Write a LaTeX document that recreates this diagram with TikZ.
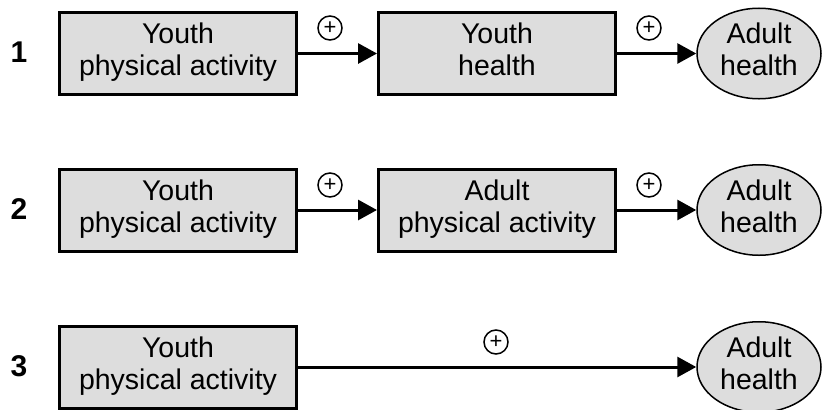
\documentclass[tikz,border=0pt]{standalone}
\usepackage{fontspec}
\setmainfont{Liberation Sans}
\usetikzlibrary{arrows.meta,shapes.geometric}
\definecolor{boxfill}{RGB}{221,221,221}
\tikzset{
  stage/.style={draw=black, line width=3pt, fill=boxfill, rectangle,
    minimum width=237pt, minimum height=82pt, inner sep=0pt, align=center,
    font=\fontsize{28.5}{32}\selectfont},
  outcome/.style={draw=black, line width=1.5pt, fill=boxfill, ellipse,
    minimum width=124pt, minimum height=87pt, inner sep=0pt, align=center,
    font=\fontsize{28.5}{32}\selectfont},
  pathno/.style={font=\fontsize{30}{32}\selectfont\bfseries, inner sep=0pt},
  sign/.style={draw=black, line width=1.5pt, circle, minimum size=24pt,
    inner sep=0pt, font=\fontsize{22}{22}\selectfont},
  effect/.style={line width=3pt, -{Triangle[length=19pt,width=20pt]}}
}
\begin{document}
\begin{tikzpicture}[x=1pt,y=-1pt]
  \useasboundingbox (0,0) rectangle (823,410);

  % path 1: youth activity -> youth health -> adult health
  \node[pathno] (n1) at (19,52) {1};
  \node[stage] (a1) at (178,53.5) {Youth\strut\\physical activity\strut};
  \node[stage] (b1) at (497,53.5) {Youth\strut\\health\strut};
  \node[outcome] (c1) at (759,53.5) {Adult\strut\\health\strut};
  \draw[effect] (a1.east) -- (b1.west);
  \draw[effect] (b1.east) -- (c1.west);
  \node[sign] (p1a) at (330,28) {+};
  \node[sign] (p1b) at (649,28) {+};

  % path 2: youth activity -> adult activity -> adult health
  \node[pathno] (n2) at (19,209) {2};
  \node[stage] (a2) at (178,210) {Youth\strut\\physical activity\strut};
  \node[stage] (b2) at (497,210) {Adult\strut\\physical activity\strut};
  \node[outcome] (c2) at (759,210) {Adult\strut\\health\strut};
  \draw[effect] (a2.east) -- (b2.west);
  \draw[effect] (b2.east) -- (c2.west);
  \node[sign] (p2a) at (330,185) {+};
  \node[sign] (p2b) at (649,185) {+};

  % path 3: youth activity -> adult health directly
  \node[pathno] (n3) at (19,366) {3};
  \node[stage] (a3) at (178,367) {Youth\strut\\physical activity\strut};
  \node[outcome] (c3) at (759,367) {Adult\strut\\health\strut};
  \draw[effect] (a3.east) -- (c3.west);
  \node[sign] (p3) at (496,342) {+};
\end{tikzpicture}
\end{document}
